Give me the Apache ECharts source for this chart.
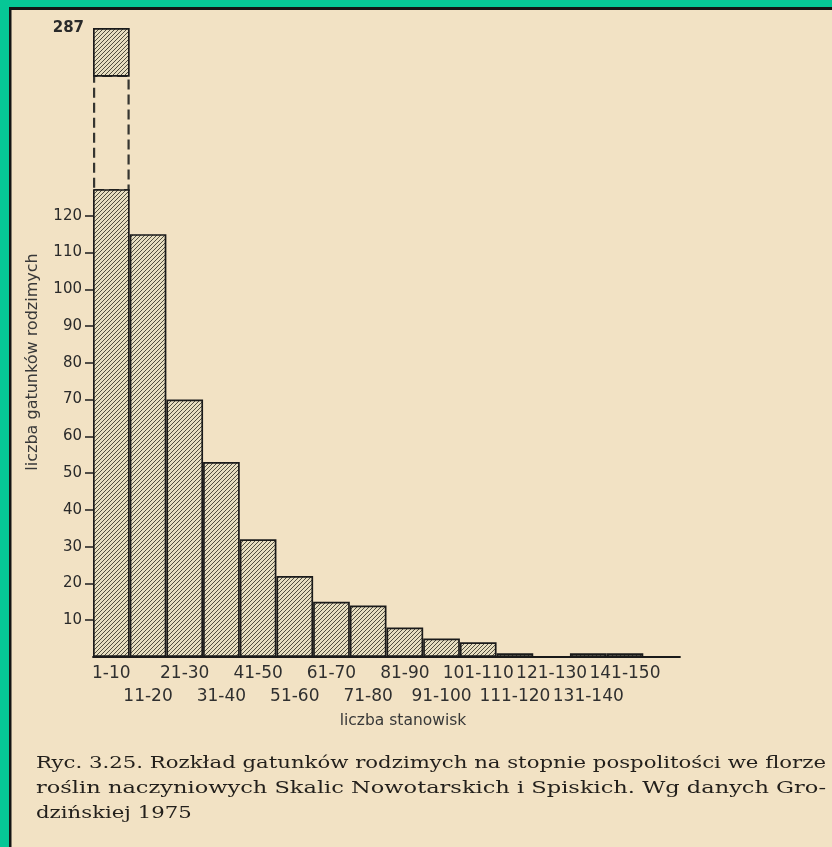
<!DOCTYPE html>
<html>
<head>
<meta charset="utf-8">
<script src="https://cdn.jsdelivr.net/npm/echarts@6/dist/echarts.min.js"></script>
<style>
  html, body { margin: 0; padding: 0; background: #f2e2c4; }
  #chart { width: 832px; height: 847px; }
</style>
</head>
<body>
<div id="chart"></div>
<script>
// ---- data ----
const categories = ['1-10', '11-20', '21-30', '31-40', '41-50', '51-60', '61-70', '71-80',
  '81-90', '91-100', '101-110', '111-120', '121-130', '131-140', '141-150', ''];
const speciesCount = [287, 115, 70, 53, 32, 22, 15, 14, 8, 5, 4, 1, 0, 1, 1, null];
const yTickValues = [10, 20, 30, 40, 50, 60, 70, 80, 90, 100, 110, 120];
const xAxisTitle = 'liczba stanowisk';
const yAxisTitle = 'liczba gatunków rodzimych';
const captionLines = [
  'Ryc. 3.25. Rozkład gatunków rodzimych na stopnie pospolitości we florze',
  'roślin naczyniowych Skalic Nowotarskich i Spiskich. Wg danych Gro-',
  'dzińskiej 1975'
];
// broken axis ranges
const lowerMax = 127;
const upperMin = 274;
const upperMax = Math.max(...speciesCount.filter(v => v != null));

// ---- hatch pattern ----
function makeHatch() {
  const s = 4;
  const c = document.createElement('canvas');
  c.width = s; c.height = s;
  const g = c.getContext('2d');
  g.fillStyle = '#e6ddc0';
  g.fillRect(0, 0, s, s);
  g.strokeStyle = '#403c30';
  g.lineWidth = 0.9;
  g.beginPath();
  g.moveTo(0, s); g.lineTo(s, 0);
  g.moveTo(-1, 1); g.lineTo(1, -1);
  g.moveTo(s - 1, s + 1); g.lineTo(s + 1, s - 1);
  g.stroke();
  return c;
}
const hatch = { image: makeHatch(), repeat: 'repeat' };

// ---- caption scaling (justify to width) ----
const captionFont = '16px "DejaVu Serif"';
const mctx = document.createElement('canvas').getContext('2d');
mctx.font = captionFont;
const capLeft = 36, capWidth = 790;
const s1 = capWidth / mctx.measureText(captionLines[0]).width;
const s2 = capWidth / mctx.measureText(captionLines[1]).width;
const capScales = [s1, s2, s1];
const capY = [764, 789, 814];

const chart = echarts.init(document.getElementById('chart'), null, { renderer: 'canvas' });

const axisColor = '#1a1a1a';
const labelColor = '#2f2f2f';
const sans = 'DejaVu Sans';

const W = 832, H = 847;
const plotLeft = 93, plotRight = 680, baseY = 657;
const lowerTop = 190, upperTop = 28, upperBottom = 75.8;

const option = {
  animation: false,
  backgroundColor: '#f2e2c4',
  grid: [
    { left: plotLeft, right: W - plotRight, top: lowerTop, bottom: H - baseY, outerBoundsMode: 'none' },
    { left: plotLeft, right: W - plotRight, top: upperBottom, bottom: H - lowerTop, outerBoundsMode: 'none' },
    { left: plotLeft, right: W - plotRight, top: upperTop, bottom: H - upperBottom, outerBoundsMode: 'none' }
  ],
  xAxis: [
    {
      gridIndex: 0, type: 'category', data: categories,
      axisLine: { lineStyle: { color: axisColor, width: 1.8 } },
      axisTick: { show: false },
      axisLabel: {
        interval: 0, hideOverlap: false, margin: 5,
        fontFamily: sans, fontSize: 17, color: labelColor, lineHeight: 23,
        formatter: (v, i) => (i % 2 === 1 ? '\n' + v : v)
      },
      name: xAxisTitle, nameLocation: 'middle', nameGap: 54,
      nameTextStyle: { fontFamily: sans, fontSize: 15.5, color: '#383838', padding: [0, 0, 0, 33] }
    },
    { gridIndex: 1, type: 'category', data: categories, show: false },
    { gridIndex: 2, type: 'category', data: categories, show: false }
  ],
  yAxis: [
    {
      gridIndex: 0, type: 'value', min: 0, max: lowerMax,
      axisLine: { show: false },
      splitLine: { show: false },
      axisTick: { show: true, customValues: yTickValues, length: 8, lineStyle: { color: '#262626', width: 1.6 } },
      axisLabel: { customValues: yTickValues, margin: 11, fontFamily: sans, fontSize: 15, color: '#2a2a2a' },
      name: yAxisTitle, nameLocation: 'middle', nameGap: 52, nameRotate: 90,
      nameTextStyle: { fontFamily: sans, fontSize: 16, color: '#383838', padding: [0, 0, 0, 123] }
    },
    { gridIndex: 1, type: 'value', min: lowerMax, max: upperMin, show: false, splitLine: { show: false } },
    {
      gridIndex: 2, type: 'value', min: upperMin, max: upperMax,
      axisLine: { show: false }, axisTick: { show: false }, splitLine: { show: false },
      axisLabel: { customValues: [upperMax], margin: 9, fontFamily: sans, fontSize: 15, fontWeight: 'bold', color: '#2a2a2a' }
    }
  ],
  series: [
    {
      type: 'bar', xAxisIndex: 0, yAxisIndex: 0, data: speciesCount,
      barCategoryGap: '0%', clip: true, z: 3,
      itemStyle: { color: hatch, borderColor: axisColor, borderWidth: 1.7 }
    },
    {
      type: 'bar', xAxisIndex: 1, yAxisIndex: 1,
      data: speciesCount.map(v => (v != null && v > lowerMax ? v : null)),
      barCategoryGap: '0%', clip: true, z: 1,
      itemStyle: { color: 'transparent', borderColor: '#353530', borderWidth: 2.2, borderType: [10, 5] }
    },
    {
      type: 'bar', xAxisIndex: 2, yAxisIndex: 2,
      data: speciesCount.map(v => (v != null && v > upperMin ? v : null)),
      barCategoryGap: '0%', clip: true, z: 3,
      itemStyle: { color: hatch, borderColor: axisColor, borderWidth: 1.7 }
    }
  ],
  graphic: [
    { type: 'rect', shape: { x: 0, y: 0, width: W, height: 7 }, style: { fill: '#06c796' }, z: 100 },
    { type: 'rect', shape: { x: 0, y: 0, width: 9, height: H }, style: { fill: '#06c796' }, z: 100 },
    { type: 'rect', shape: { x: 9, y: 7, width: W - 9, height: 3 }, style: { fill: '#141414' }, z: 100 },
    { type: 'rect', shape: { x: 9, y: 7, width: 2.5, height: H - 7 }, style: { fill: '#141414' }, z: 100 },
    ...captionLines.map((t, i) => ({
      type: 'text', x: capLeft, y: capY[i], scaleX: capScales[i], z: 50,
      style: { text: t, font: captionFont, fill: '#221f1b', textAlign: 'left', textVerticalAlign: 'middle' }
    }))
  ]
};
chart.setOption(option);
</script>
</body>
</html>
